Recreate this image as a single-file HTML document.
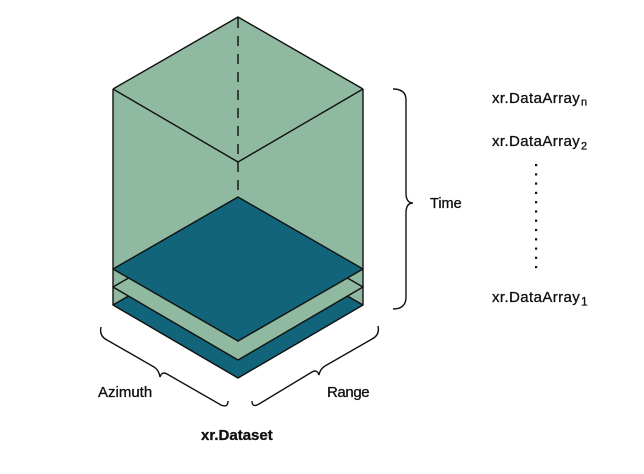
<!DOCTYPE html>
<html>
<head>
<meta charset="utf-8">
<style>
  html, body { margin: 0; padding: 0; background: #ffffff; }
  body { width: 644px; height: 474px; overflow: hidden; }
  svg { display: block; }
  text { font-family: "Liberation Sans", sans-serif; fill: #111; stroke: #111; stroke-width: 0.3; }
</style>
</head>
<body>
<svg width="644" height="474" viewBox="0 0 644 474" xmlns="http://www.w3.org/2000/svg">
  <!-- box body -->
  <polygon points="238,17 363,89 363,305 238,378 113,305 113,89" fill="#8fb9a0" stroke="none"/>
  <!-- top face edges -->
  <g stroke="#111" stroke-width="1.4" fill="none" stroke-linejoin="round">
    <polyline points="113,89 238,17 363,89"/>
    <polyline points="113,89 238,162 363,89"/>
    <line x1="113" y1="89" x2="113" y2="305"/>
    <line x1="363" y1="89" x2="363" y2="305"/>
  </g>
  <!-- dashed back edge -->
  <line x1="238" y1="18" x2="238" y2="194" stroke="#111" stroke-width="1.4" stroke-dasharray="10,8"/>

  <!-- layers -->
  <g stroke="#111" stroke-width="1.4" stroke-linejoin="round">
    <polygon points="238,233 363,305 238,378 113,305" fill="#12647a"/>
    <polygon points="238,215 363,287 238,360 113,287" fill="#8fb9a0"/>
    <polygon points="238,197 363,269 238,341 113,269" fill="#12647a"/>
  </g>

  <!-- Time brace -->
  <path d="M393,89 Q406,89 406,100 L406,193 Q406,203 413,203 Q406,203 406,213 L406,297 Q406,309 393,309" fill="none" stroke="#111" stroke-width="1.4"/>

  <!-- Azimuth brace -->
  <path d="M101,327 Q99,336 107,340 L154,367 Q159,370 160,377 Q162,371 167,374 L221,405 Q228,408 228,401" fill="none" stroke="#111" stroke-width="1.4"/>

  <!-- Range brace -->
  <path d="M378,326 Q380,335 372,339 L325,366 Q320,369 319,375 Q317,369 312,372 L259,404 Q252,408 252,401" fill="none" stroke="#111" stroke-width="1.4"/>

  <!-- labels -->
  <text x="430" y="208" font-size="14.5">Time</text>

  <text x="492" y="103" font-size="15" letter-spacing="0.4">xr.DataArray</text>
  <text x="581" y="105.5" font-size="11">n</text>

  <text x="492" y="146" font-size="15" letter-spacing="0.4">xr.DataArray</text>
  <text x="581" y="149.5" font-size="11">2</text>

  <text x="492" y="302" font-size="15" letter-spacing="0.4">xr.DataArray</text>
  <text x="581" y="305.5" font-size="12">1</text>

  <!-- vertical dots -->
  <g fill="#111">
    <rect x="535" y="164" width="2.2" height="2.2"/>
    <rect x="535" y="173.3" width="2.2" height="2.2"/>
    <rect x="535" y="182.5" width="2.2" height="2.2"/>
    <rect x="535" y="191.8" width="2.2" height="2.2"/>
    <rect x="535" y="201.1" width="2.2" height="2.2"/>
    <rect x="535" y="210.4" width="2.2" height="2.2"/>
    <rect x="535" y="219.6" width="2.2" height="2.2"/>
    <rect x="535" y="228.9" width="2.2" height="2.2"/>
    <rect x="535" y="238.2" width="2.2" height="2.2"/>
    <rect x="535" y="247.5" width="2.2" height="2.2"/>
    <rect x="535" y="256.7" width="2.2" height="2.2"/>
    <rect x="535" y="266" width="2.2" height="2.2"/>
  </g>

  <text x="98" y="397" font-size="15">Azimuth</text>
  <text x="327" y="397" font-size="15" letter-spacing="-0.4">Range</text>
  <text x="201" y="440" font-size="15" font-weight="bold">xr.Dataset</text>
</svg>
</body>
</html>
